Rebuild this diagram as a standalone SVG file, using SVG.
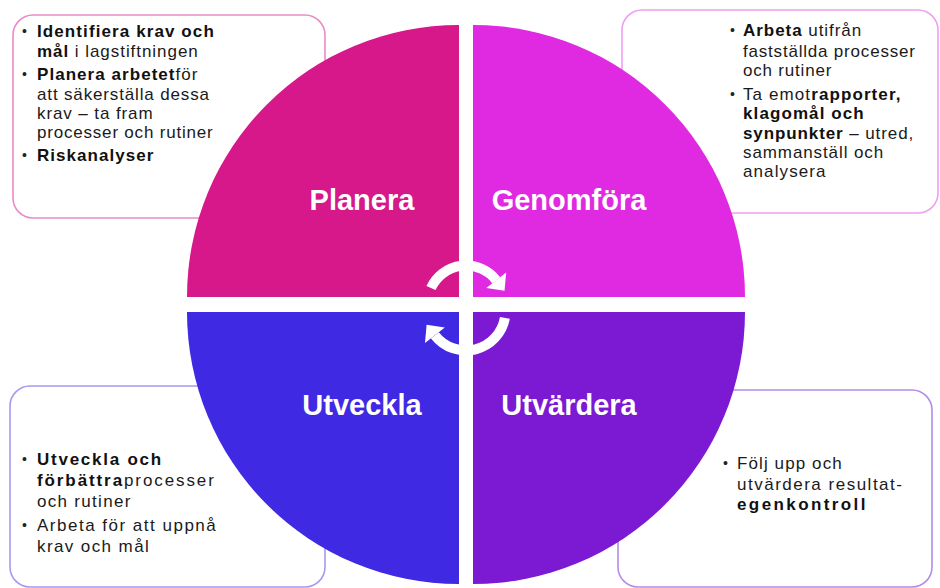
<svg xmlns="http://www.w3.org/2000/svg" width="940" height="588" viewBox="0 0 940 588">
<style>
.box{fill:#fff;stroke-width:1.6}
.t{font-family:"Liberation Sans",Arial,sans-serif;font-size:17px;fill:#1a1a1a}
.b{font-weight:bold;fill:#111}
.bul{font-family:"Liberation Sans",Arial,sans-serif;font-size:14px;fill:#222}
.lbl{font-family:"Liberation Sans",Arial,sans-serif;font-size:29px;font-weight:bold;fill:#fff;text-anchor:middle}
.arc{fill:none;stroke:#fff;stroke-width:10}
.head{fill:#fff}
</style>
<rect width="940" height="588" fill="#fff"/>

<g id="box-planera">
<rect class="box" x="13" y="15" width="312" height="203" rx="20" stroke="#E98CC6"/>
<text class="bul" x="22" y="36">•</text>
<text class="t b" x="37" y="37" letter-spacing="1.1">Identifiera krav och</text>
<text class="t" x="37" y="57" letter-spacing="0.95"><tspan class="b">mål</tspan> i lagstiftningen</text>
<text class="bul" x="22" y="79">•</text>
<text class="t" x="37" y="80" letter-spacing="1.05"><tspan class="b">Planera arbetet</tspan>för</text>
<text class="t" x="37" y="100" letter-spacing="0.85">att säkerställa dessa</text>
<text class="t" x="37" y="119" letter-spacing="0.9">krav – ta fram</text>
<text class="t" x="37" y="138" letter-spacing="0.8">processer och rutiner</text>
<text class="bul" x="22" y="160">•</text>
<text class="t b" x="37" y="161" letter-spacing="1.05">Riskanalyser</text>
</g>

<g id="box-genomfora">
<rect class="box" x="622" y="10" width="316" height="203" rx="20" stroke="#EEA0EE"/>
<text class="bul" x="730" y="35">•</text>
<text class="t" x="743" y="36" letter-spacing="0.95"><tspan class="b">Arbeta</tspan> utifrån</text>
<text class="t" x="743" y="57" letter-spacing="0.8">fastställda processer</text>
<text class="t" x="743" y="76" letter-spacing="0.8">och rutiner</text>
<text class="bul" x="730" y="99">•</text>
<text class="t" x="743" y="100" letter-spacing="1.1">Ta emot<tspan class="b">rapporter,</tspan></text>
<text class="t b" x="743" y="119" letter-spacing="1.1">klagomål och</text>
<text class="t" x="743" y="139" letter-spacing="0.9"><tspan class="b">synpunkter</tspan> – utred,</text>
<text class="t" x="743" y="158" letter-spacing="0.9">sammanställ och</text>
<text class="t" x="743" y="177" letter-spacing="1.1">analysera</text>
</g>

<g id="box-utveckla">
<rect class="box" x="10" y="386" width="315" height="201" rx="20" stroke="#A599F0"/>
<text class="bul" x="22" y="464">•</text>
<text class="t b" x="37" y="465" letter-spacing="1.75">Utveckla och</text>
<text class="t" x="37" y="486" letter-spacing="1.9"><tspan class="b">förbättra</tspan>processer</text>
<text class="t" x="37" y="507" letter-spacing="1.3">och rutiner</text>
<text class="bul" x="22" y="530">•</text>
<text class="t" x="37" y="531" letter-spacing="1.5">Arbeta för att uppnå</text>
<text class="t" x="37" y="552" letter-spacing="1.4">krav och mål</text>
</g>

<g id="box-utvardera">
<rect class="box" x="618" y="390" width="314" height="197" rx="20" stroke="#B58BE8"/>
<text class="bul" x="723" y="468">•</text>
<text class="t" x="737" y="469" letter-spacing="1.1">Följ upp och</text>
<text class="t" x="737" y="490" letter-spacing="1.5">utvärdera resultat-</text>
<text class="t b" x="737" y="510" letter-spacing="2.4">egenkontroll</text>
</g>

<g id="planera">
<path d="M459,297 L187,297 A272,272 0 0 1 459,25 Z" fill="#D6188A"/>
<text class="lbl" x="362" y="210">Planera</text>
</g>
<g id="genomfora">
<path d="M473,297 L473,25 A272,272 0 0 1 745,297 Z" fill="#E02AE2"/>
<text class="lbl" x="569" y="210">Genomföra</text>
</g>
<g id="utveckla">
<path d="M459,312 L459,584 A272,272 0 0 1 187,312 Z" fill="#4029E2"/>
<text class="lbl" x="362" y="415">Utveckla</text>
</g>
<g id="utvardera">
<path d="M473,312 L745,312 A272,272 0 0 1 473,584 Z" fill="#7C19D3"/>
<text class="lbl" x="569" y="415">Utvärdera</text>
</g>

<g id="connectors">
<path class="arc" d="M431,288 A38.5,38.5 0 0 1 496.3,280.3"/>
<polygon class="head" points="506.2,272.5 504.5,290.8 486.3,288"/>
<path class="arc" d="M504.9,317.9 A39.5,39.5 0 0 1 434.9,335.3"/>
<polygon class="head" points="425,343 426.6,324.8 444.8,327.6"/>
</g>
</svg>
